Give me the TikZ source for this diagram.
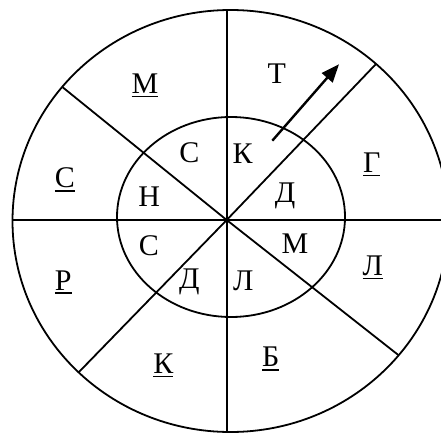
\documentclass[tikz,border=0pt]{standalone}
\usepackage{fontspec}
\setmainfont{Liberation Serif}
\usetikzlibrary{arrows.meta}
\newcommand{\ulbox}[1]{\leavevmode\vtop{\hbox{#1}\kern2.4pt\hrule height 1.4pt}}

\begin{document}
\begin{tikzpicture}[x=1pt,y=-1pt,
  ring/.style={line width=1.8pt},
  lbl/.style={font=\fontsize{30}{32}\selectfont,inner sep=0pt,anchor=base}]
\useasboundingbox (0,0) rectangle (441,433);
\begin{scope}
\clip (0,0) rectangle (441,433);
% circles
\draw[ring] (230.5,221) ellipse [x radius=218pt, y radius=211pt];
\draw[ring] (231,217) ellipse [x radius=114pt, y radius=100pt];
% spokes
\coordinate (o) at (226.7,220);
\coordinate (n) at (226.7,10);
\coordinate (s) at (226.7,432);
\coordinate (w) at (12.5,220);
\coordinate (e) at (441,220);
\coordinate (nw) at (62.7,87.3);
\coordinate (se) at (398.3,355);
\coordinate (ne) at (376,64);
\coordinate (sw) at (78.3,372.7);
\draw[ring] (n) -- (s);
\draw[ring] (w) -- (e);
\draw[ring] (nw) -- (o) -- (se);
\draw[ring] (ne) -- (o) -- (sw);
\end{scope}
% arrow
\coordinate (a1) at (272.3,140.7);
\coordinate (a2) at (339,64.3);
\draw[line width=2.4pt,-{Triangle[length=18pt,width=14pt]}] (a1) -- (a2);
% outer ring
\node[lbl] (om) at (145,93.3) {\ulbox{М}};
\node[lbl] (ot) at (276.7,83.3) {Т};
\node[lbl] (og) at (371.7,172.3) {\ulbox{Г}};
\node[lbl] (ol) at (372.7,275) {\ulbox{Л}};
\node[lbl] (ob) at (270.7,366.7) {\ulbox{Б}};
\node[lbl] (ok) at (163.3,373.3) {\ulbox{К}};
\node[lbl] (or) at (63.3,290) {\ulbox{Р}};
\node[lbl] (os) at (65,187.5) {\ulbox{С}};
% inner ring
\node[lbl] (is) at (189.3,162.7) {С};
\node[lbl] (ik) at (242.7,163.3) {К};
\node[lbl] (in) at (149.3,206) {Н};
\node[lbl] (id) at (285,202.7) {Д};
\node[lbl] (ic) at (149,255.5) {С};
\node[lbl] (im) at (295,253.3) {М};
\node[lbl] (ie) at (189.3,288.3) {Д};
\node[lbl] (il) at (243.3,290) {Л};
\end{tikzpicture}
\end{document}
